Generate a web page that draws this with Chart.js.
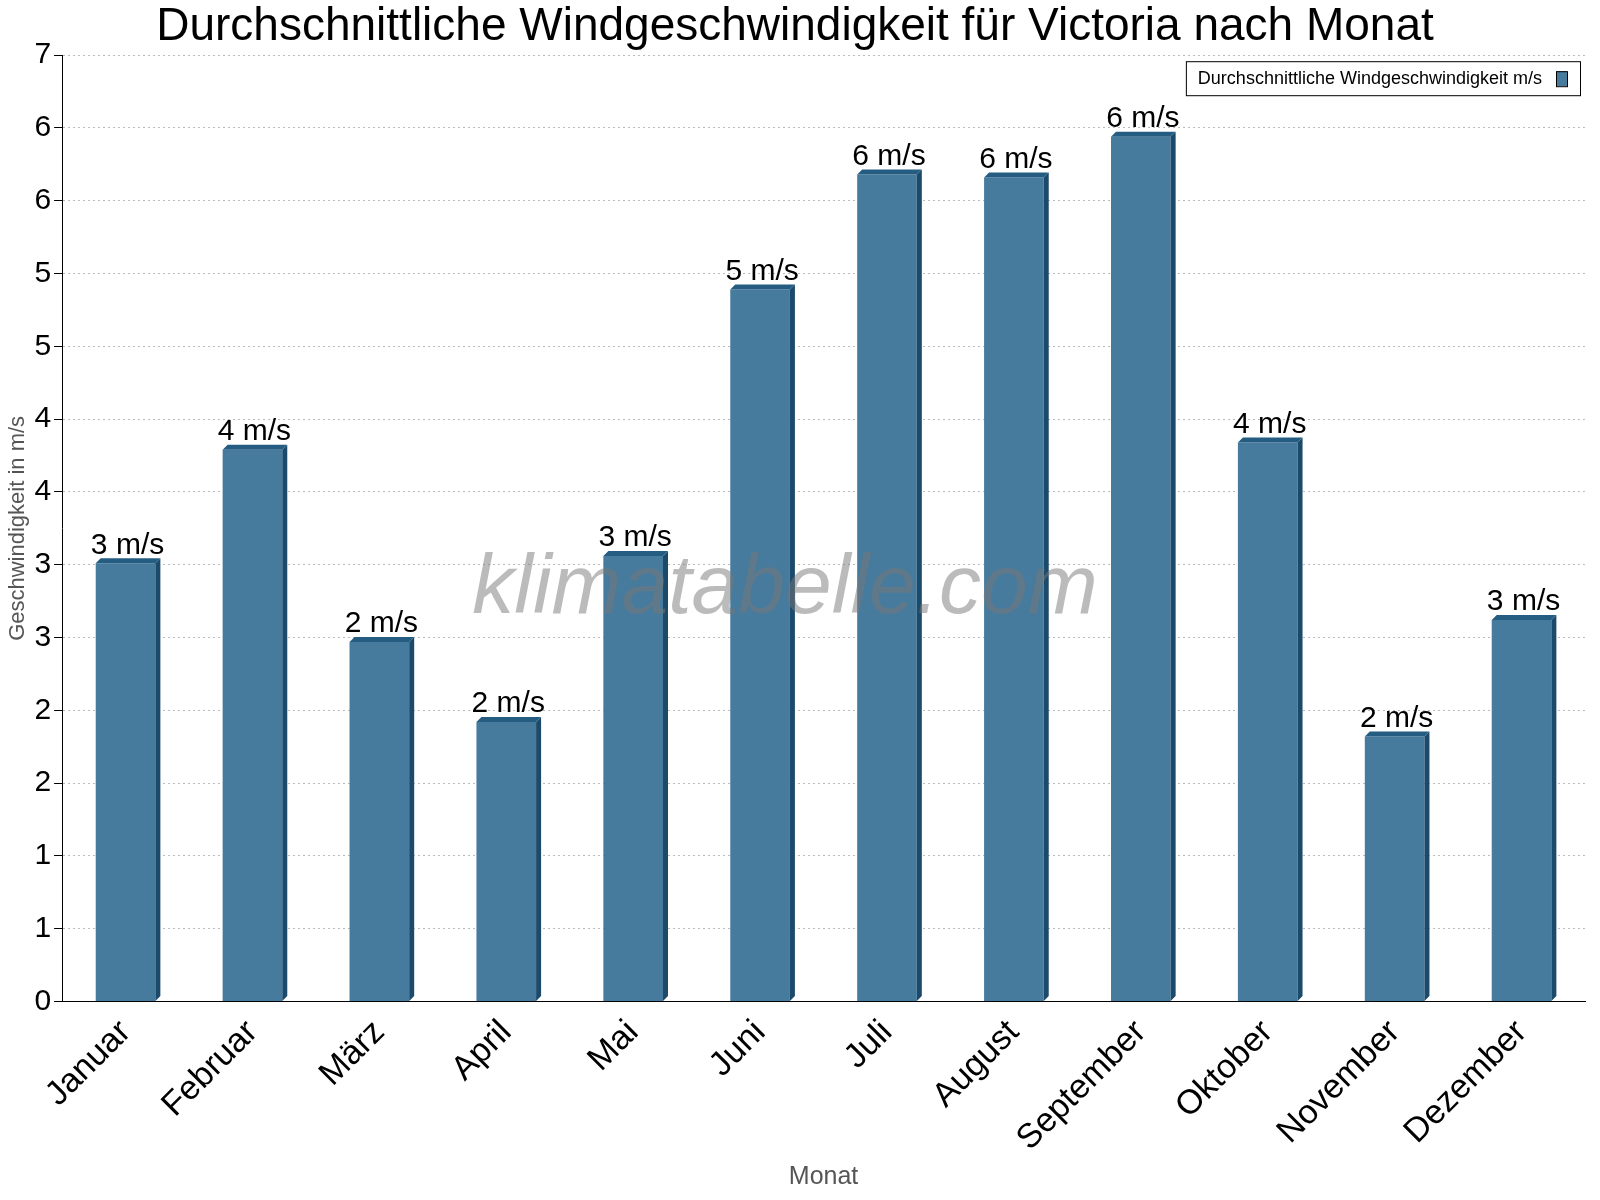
<!DOCTYPE html>
<html><head><meta charset="utf-8">
<script src="https://cdn.jsdelivr.net/npm/chart.js@4"></script>
<style>body{margin:0;background:#fff}</style>
</head><body><canvas id="c" width="1600" height="1200"></canvas>
<script>
const MONTHS = ["Januar","Februar","März","April","Mai","Juni","Juli","August","September","Oktober","November","Dezember"],
      SPEEDS = [3.01,3.79,2.47,1.92,3.06,4.89,5.68,5.66,5.94,3.84,1.82,2.62],
      BAR_LABELS = ["3 m/s","4 m/s","2 m/s","2 m/s","3 m/s","5 m/s","6 m/s","6 m/s","6 m/s","4 m/s","2 m/s","3 m/s"],
      Y_TICKS = ["0","1","1","2","2","3","3","4","4","5","5","6","6","7"],
      LEGEND_TEXT = "Durchschnittliche Windgeschwindigkeit m/s";

const FONT = '"Liberation Sans", Arial';

// fake 3d side + top, value labels, watermark, legend box
const extras = {
    id: 'extras',
    afterDatasetsDraw(chart) {
        const ctx = chart.ctx, a = chart.chartArea, d = 5;
        ctx.save();
        chart.getDatasetMeta(0).data.forEach((b, i) => {
            const l = b.x - b.width / 2, r = b.x + b.width / 2, bot = b.base;
            ctx.fillStyle = '#1b4a6b';
            ctx.beginPath(); ctx.moveTo(r, b.y); ctx.lineTo(r + d, b.y - d); ctx.lineTo(r + d, bot - d); ctx.lineTo(r, bot); ctx.closePath(); ctx.fill();
            ctx.fillStyle = '#245c82';
            ctx.beginPath(); ctx.moveTo(l, b.y); ctx.lineTo(l + d, b.y - d); ctx.lineTo(r + d, b.y - d); ctx.lineTo(r, b.y); ctx.closePath(); ctx.fill();
            ctx.fillStyle = '#000'; ctx.font = '30px ' + FONT;
            ctx.textAlign = 'center'; ctx.textBaseline = 'bottom';
            ctx.fillText(BAR_LABELS[i], b.x + 2, b.y - 3);
        });
        ctx.font = 'italic 84px ' + FONT;
        ctx.fillStyle = 'rgba(120,120,120,0.5)';
        ctx.textAlign = 'center'; ctx.textBaseline = 'middle';
        ctx.fillText('klimatabelle.com', 785, 590);
        // legend
        ctx.font = '18px ' + FONT;
        const tw = ctx.measureText(LEGEND_TEXT).width, x1 = a.right - 5, y0 = a.top + 6, h = 34;
        const x0 = x1 - tw - 50;
        ctx.fillStyle = '#fff'; ctx.fillRect(x0, y0, x1 - x0, h);
        ctx.strokeStyle = '#000'; ctx.lineWidth = 1; ctx.strokeRect(x0 + 0.5, y0 + 0.5, x1 - x0, h);
        ctx.fillStyle = '#000'; ctx.textAlign = 'left';
        ctx.fillText(LEGEND_TEXT, x0 + 12, y0 + h / 2 + 1);
        ctx.fillStyle = '#467b9d'; ctx.fillRect(x1 - 24, y0 + 10, 11, 15);
        ctx.strokeRect(x1 - 23.5, y0 + 10.5, 11, 15);
        ctx.restore();
    }
};

new Chart(document.getElementById('c'), {
    type: 'bar',
    data: { labels: MONTHS, datasets: [{ label: LEGEND_TEXT, data: SPEEDS,
        backgroundColor: '#467b9d', borderWidth: 0, barPercentage: 0.47, categoryPercentage: 1 }] },
    options: {
        animation: false, responsive: false, devicePixelRatio: 1,
        layout: { padding: { right: 15, left: 5, bottom: 8 } },
        plugins: {
            title: { display: true, text: 'Durchschnittliche Windgeschwindigkeit für Victoria nach Monat', color: '#000',
                font: { size: 46, family: FONT, weight: 'normal' }, padding: { top: 0, bottom: 0 } },
            legend: { display: false },
            tooltip: { enabled: false }
        },
        scales: {
            x: { grid: { display: false }, border: { color: '#000' },
                ticks: { color: '#000', maxRotation: 45, minRotation: 45, font: { size: 34, family: FONT } },
                title: { display: true, text: 'Monat', color: '#555', font: { size: 25, family: FONT }, padding: 0 } },
            y: { min: 0, max: 6.5, border: { color: '#000', dash: [2, 3] },
                grid: { color: '#bbb', tickColor: '#000', tickLength: 8 },
                afterBuildTicks: s => { s.ticks = Y_TICKS.map((t, i) => ({ value: i / 2 })); },
                ticks: { color: '#000', font: { size: 30, family: FONT }, callback: (v, i) => Y_TICKS[i] },
                title: { display: true, text: 'Geschwindigkeit in m/s', color: '#555', font: { size: 22, family: FONT }, padding: 0 } }
        }
    },
    plugins: [extras]
});
</script></body></html>
